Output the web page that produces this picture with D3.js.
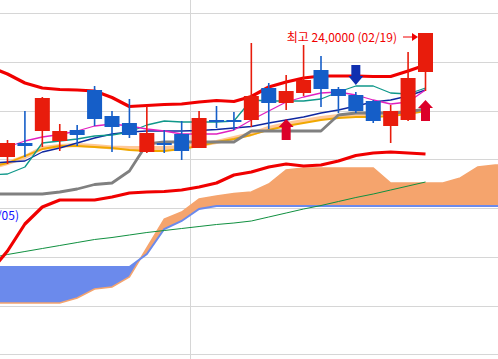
<!DOCTYPE html>
<html><head><meta charset="utf-8">
<script src="https://cdn.jsdelivr.net/npm/d3@7"></script>
<style>html,body{margin:0;padding:0;background:#fff;overflow:hidden}</style>
</head><body><svg id="c" width="498" height="359"></svg>
<script>
// ---- data ----
const opens  = [21520,21800,22040,21840,22060,22860,22340,22200,21620,21800,21980,21700,22260,22260,22260,22900,22600,22800,23260,22880,22760,22640,22140,22260,23220];
const closes = [21800,21740,22700,22040,21960,22280,22120,21960,22000,21780,21640,22300,22220,22220,22740,22600,22840,23060,22880,22740,22440,22240,22440,23100,24000];
const highs  = [21860,22440,22720,22180,22160,22940,22440,22680,22540,22060,22240,22440,22540,22420,23800,23000,23160,23760,23540,22920,22820,22660,22560,23620,24000];
const lows   = [21380,21520,21720,21640,21740,22140,21620,21900,21600,21600,21460,21700,22100,22060,22120,22080,22460,22740,22520,22400,22400,22200,21800,22240,22840];

// indicator lines start one period before the first visible candle (index -1)
const lineStart = -1;
const bbUpper = [23320,23180,23000,22900,22870,22860,22840,22710,22530,22550,22570,22580,22620,22650,22630,22730,22920,23020,23100,23140,23140,23140,23130,23130,23240,23360];
const bbLower = [19220,19640,20180,20520,20660,20660,20660,20720,20800,20820,20830,20860,20920,21000,21160,21220,21320,21380,21340,21360,21440,21550,21600,21620,21600,21580];
const ma5     = [21600,21720,21840,21920,21970,22040,22140,22180,22140,22080,22040,21980,21980,21980,22060,22260,22440,22620,22720,22800,22820,22760,22660,22580,22620,22860];
const ma20    = [21160,21180,21320,21800,21840,21880,21940,21960,22020,22160,22240,22220,22220,22220,22240,22660,22640,22640,22640,22680,22820,22940,22940,22800,22780,22900];
const ma60    = [21400,21420,21440,21620,21700,21800,21900,21980,22020,22040,22040,22040,22050,22070,22100,22130,22200,22260,22320,22400,22460,22540,22620,22660,22740,22860];
const baseLine= [20780,20780,20780,20780,20820,20880,20970,21000,21240,21780,21820,21820,21820,21820,21820,22040,22040,22040,22040,22040,22360,22400,22400,22400,22420,22480];
const ma120   = [21300,21400,21520,21700,21740,21760,21740,21710,21700,21700,21700,21720,21760,21820,21900,21980,22100,22180,22240,22300,22340,22380,22380,22400,22420,22460];
const convLine= [21320,21400,21540,21680,21740,21740,21720,21700,21660,21640,21640,21680,21740,21820,21880,21960,22060,22140,22200,22260,22300,22320,22320,22340,22380,22440];
const ma240   = [19500,19570,19630,19690,19750,19810,19870,19910,19960,20010,20050,20090,20130,20170,20200,20240,20320,20400,20480,20550,20630,20710,20780,20860,20940,21020];

// Ichimoku cloud spans, index -1 .. 29 (shifted forward)
const spanA = [18600,18600,18600,18600,18600,18700,18880,18920,19120,19700,20280,20420,20680,20740,20790,20820,20980,21260,21300,21300,21300,21300,21300,21000,21000,21000,21000,21100,21320,21360,21360];
const spanB = [19320,19320,19320,19320,19320,19320,19320,19320,19320,19580,20080,20240,20480,20540,20540,20540,20540,20540,20540,20540,20540,20540,20540,20540,20540,20540,20540,20540,20540,20540,20540];

const gridPrices = [24400,23425,22450,21475,20500,19525,18550,17575];
const monthBreaks = [10.5];
const signals = [{i:16,type:"buy"},{i:20,type:"sell"},{i:24,type:"buy"}];
const highLabel = "최고 24,0000 (02/19)";
const lowLabel = "← 최저 19,2200 (01/05)";

// ---- drawing ----
const W = 498, H = 359;
const svg = d3.select("#c");
const x = d3.scaleLinear().domain([0,24]).range([7.5,425.5]);
const y = d3.scaleLinear().domain([24000,17600]).range([33,353]);

svg.append("defs").append("clipPath").attr("id","plot")
  .append("rect").attr("width",W).attr("height",H);
const g = svg.append("g").attr("clip-path","url(#plot)");

// gridlines
g.selectAll("line.h").data(gridPrices).join("line")
  .attr("x1",0).attr("x2",W)
  .attr("y1",d=>Math.round(y(d))+0.5).attr("y2",d=>Math.round(y(d))+0.5)
  .attr("stroke","#d6d6d6").attr("stroke-width",1);
g.selectAll("line.v").data(monthBreaks).join("line")
  .attr("x1",d=>Math.round(x(d))+0.5).attr("x2",d=>Math.round(x(d))+0.5)
  .attr("y1",0).attr("y2",H)
  .attr("stroke","#d6d6d6").attr("stroke-width",1);

// cloud
const cloud = spanA.map((a,k)=>({i:k+lineStart,a,b:spanB[k]}));
const defs = svg.select("defs");
defs.append("clipPath").attr("id","aboveB").append("path")
  .attr("d", d3.area().x(d=>x(d.i)).y0(-10).y1(d=>y(d.b))(cloud));
defs.append("clipPath").attr("id","belowB").append("path")
  .attr("d", d3.area().x(d=>x(d.i)).y0(H+10).y1(d=>y(d.b))(cloud));
const cloudArea = d3.area().x(d=>x(d.i)).y0(d=>y(d.b)).y1(d=>y(d.a));
g.append("g").attr("clip-path","url(#aboveB)").append("path")
  .attr("d",cloudArea(cloud)).attr("fill","#f5a46d");
g.append("g").attr("clip-path","url(#belowB)").append("path")
  .attr("d",cloudArea(cloud)).attr("fill","#6b8aec");
const cl = key => d3.line().x(d=>x(d.i)).y(d=>y(d[key]));
g.append("path").attr("d",cl("a")(cloud)).attr("fill","none").attr("stroke","#f5a46d").attr("stroke-width",1.5);
g.append("path").attr("d",cl("b")(cloud)).attr("fill","none").attr("stroke","#6b8aec").attr("stroke-width",2);

// indicator lines
function drawLine(arr,color,w){
  const pts = arr.map((v,k)=>[x(k+lineStart),y(v)]);
  g.append("path").attr("d",d3.line()(pts)).attr("fill","none")
    .attr("stroke",color).attr("stroke-width",w).attr("stroke-linejoin","round");
}
drawLine(ma240,"#109040",1);
drawLine(bbLower,"#f00000",3.2);
drawLine(bbUpper,"#f00000",3.2);
drawLine(ma120,"#ffc896",4);
drawLine(convLine,"#f0a800",1.8);
drawLine(baseLine,"#808080",2.8);
drawLine(ma60,"#1028a0",1.4);
drawLine(ma20,"#10988a",1.3);
drawLine(ma5,"#e020c0",1.3);

// candles
const idx = d3.range(opens.length);
const col = i => closes[i] >= opens[i] ? "#e81c0c" : "#155ec8";
g.selectAll("line.wick").data(idx).join("line")
  .attr("x1",i=>x(i)).attr("x2",i=>x(i))
  .attr("y1",i=>y(highs[i])).attr("y2",i=>y(lows[i]))
  .attr("stroke",col).attr("stroke-width",1.6);
g.selectAll("rect.body").data(idx).join("rect")
  .attr("x",i=>x(i)-7.5).attr("width",15)
  .attr("y",i=>y(Math.max(opens[i],closes[i])))
  .attr("height",i=>Math.max(2,Math.abs(y(opens[i])-y(closes[i]))))
  .attr("fill",col);

// signal arrows
signals.forEach(s=>{
  const cx = x(s.i);
  let p;
  if(s.type==="buy"){
    const t = y(lows[s.i]) + 9;
    p = `M${cx},${t} L${cx+7.5},${t+8} L${cx+4.5},${t+8} L${cx+4.5},${t+21} L${cx-4.5},${t+21} L${cx-4.5},${t+8} L${cx-7.5},${t+8} Z`;
    g.append("path").attr("d",p).attr("fill","#dc0028");
  } else {
    const b = y(highs[s.i]) - 7;
    p = `M${cx},${b} L${cx+7.5},${b-9} L${cx+4.5},${b-9} L${cx+4.5},${b-20} L${cx-4.5},${b-20} L${cx-4.5},${b-9} L${cx-7.5},${b-9} Z`;
    g.append("path").attr("d",p).attr("fill","#1030b0");
  }
});

// high label
const hi = highs.indexOf(d3.max(highs));
const hx = x(hi) - 7.5, hy = y(highs[hi]) + 4;
g.append("line").attr("x1",hx-15).attr("x2",hx-4).attr("y1",hy).attr("y2",hy)
  .attr("stroke","#f00000").attr("stroke-width",1);
g.append("path").attr("d",`M${hx},${hy} L${hx-6},${hy-4} L${hx-6},${hy+4} Z`).attr("fill","#f00000");
g.append("text").attr("x",hx-21).attr("y",hy+4.5).attr("text-anchor","end")
  .attr("font-family","'Noto Sans CJK KR', sans-serif").attr("font-size",12)
  .attr("fill","#f00000").text(highLabel);

// low label (mostly off-screen)
g.append("text").attr("x",19).attr("y",220).attr("text-anchor","end")
  .attr("font-family","'Noto Sans CJK KR', sans-serif").attr("font-size",12)
  .attr("fill","#1010ff").text(lowLabel);
</script>
</body></html>
